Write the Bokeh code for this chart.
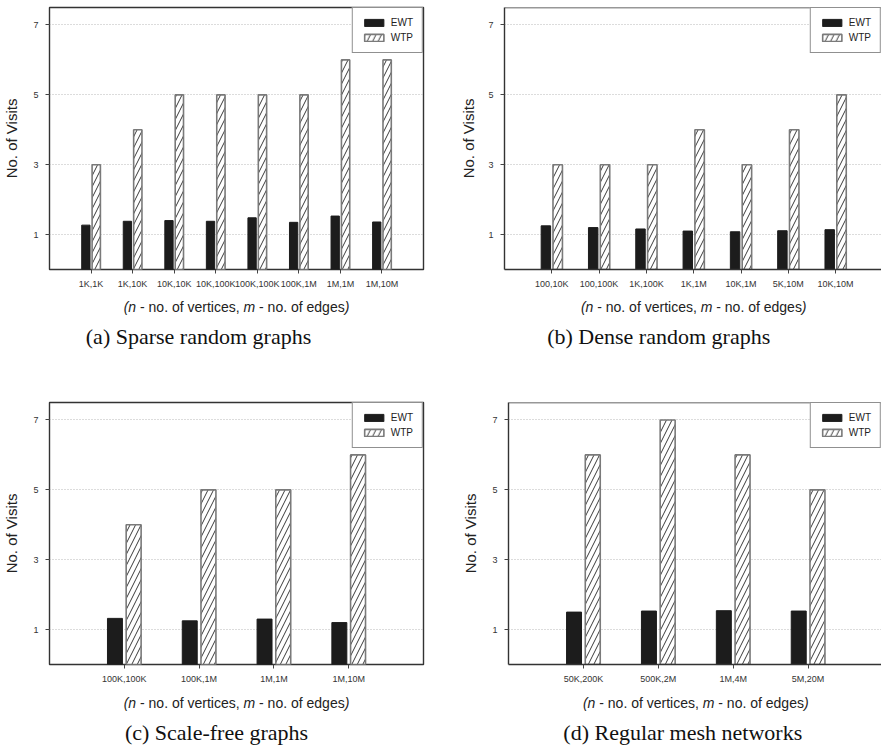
from bokeh.plotting import figure
from bokeh.models import FixedTicker, Span, Range1d
from bokeh.layouts import column, row
from bokeh.core.properties import value
from bokeh.embed import file_html
from bokeh.resources import INLINE

# ---------------- data ----------------
sparse_cats = ["1K,1K", "1K,10K", "10K,10K", "10K,100K", "100K,100K", "100K,1M", "1M,1M", "1M,10M"]
sparse_ewt = [1.27, 1.38, 1.40, 1.38, 1.48, 1.35, 1.53, 1.36]
sparse_wtp = [3, 4, 5, 5, 5, 5, 6, 6]

dense_cats = ["100,10K", "100,100K", "1K,100K", "1K,1M", "10K,1M", "5K,10M", "10K,10M"]
dense_ewt = [1.25, 1.20, 1.16, 1.10, 1.08, 1.11, 1.14]
dense_wtp = [3, 3, 3, 4, 3, 4, 5]

sf_cats = ["100K,100K", "100K,1M", "1M,1M", "1M,10M"]
sf_ewt = [1.32, 1.25, 1.30, 1.20]
sf_wtp = [4, 5, 5, 6]

mesh_cats = ["50K,200K", "500K,2M", "1M,4M", "5M,20M"]
mesh_ewt = [1.50, 1.53, 1.54, 1.53]
mesh_wtp = [6, 7, 6, 5]

y_ticks = [1, 3, 5, 7]
series_names = ["EWT", "WTP"]
y_title = "No. of Visits"
x_title_parts = [("(n", "italic"), (" - no. of vertices, ", "normal"), ("m", "italic"),
                 (" - no. of edges", "normal"), (")", "italic")]
captions = ["(a) Sparse random graphs", "(b) Dense random graphs",
            "(c) Scale-free graphs", "(d) Regular mesh networks"]

# Arial / Liberation Sans advance widths (1/1000 em)
ARIAL = {"(": 333, ")": 333, " ": 278, "-": 333, ".": 278, ",": 278, "n": 556, "o": 556,
         "f": 278, "v": 500, "e": 556, "r": 333, "t": 278, "i": 222, "c": 500, "s": 500,
         "m": 833, "d": 556, "g": 556}


def tw(s, fs):
    return sum(ARIAL.get(ch, 556) for ch in s) * fs / 1000.0


SANS = "Liberation Sans"
FRAME_COLOR = "#333333"
FRAME_H = 262


def make_panel(cats, ewt, wtp, caption, width, bl, br, bt, text_h, x_end, cut,
               ylab_standoff, cap_dx, title_y, cap_y):
    n = len(cats)
    xs = list(range(1, n + 1))
    bb = 22
    p = figure(width=width, height=bt + FRAME_H + bb, output_backend="svg", toolbar_location=None,
               x_range=Range1d(0, x_end), y_range=Range1d(0, 7.5),
               min_border_left=bl, min_border_right=br, min_border_top=bt, min_border_bottom=bb,
               background_fill_color="white", border_fill_color="white")
    p.vbar(x=[x - 0.125 for x in xs], top=ewt, width=0.2, bottom=0,
           fill_color="#1c1c1c", line_color="#1c1c1c", line_width=1, legend_label=series_names[0])
    p.vbar(x=[x + 0.125 for x in xs], top=wtp, width=0.2, bottom=0,
           fill_color="white", line_color="#7a7a7a", line_width=1.6,
           hatch_pattern="/", hatch_color="#222222", hatch_scale=11, hatch_weight=0.9,
           legend_label=series_names[1])

    p.xaxis.ticker = FixedTicker(ticks=xs)
    p.xaxis.major_label_overrides = {x: c for x, c in zip(xs, cats)}
    p.yaxis.ticker = FixedTicker(ticks=y_ticks)
    for ax in (p.xaxis[0], p.yaxis[0]):
        ax.major_label_text_font = SANS
        ax.major_label_text_font_size = "9px"
        ax.major_label_text_color = "#333333"
        ax.major_tick_in = 0
        ax.major_tick_out = 4
        ax.major_tick_line_color = "#444444"
        ax.minor_tick_line_color = None
    p.xaxis.major_label_standoff = 5
    p.yaxis.major_label_standoff = 7
    p.yaxis.axis_label = y_title
    p.yaxis.axis_label_text_font = SANS
    p.yaxis.axis_label_text_font_size = "15px"
    p.yaxis.axis_label_text_font_style = "normal"
    p.yaxis.axis_label_text_color = "#222222"
    p.yaxis.axis_label_standoff = ylab_standoff

    p.xgrid.grid_line_color = None
    p.ygrid.ticker = FixedTicker(ticks=y_ticks)
    p.ygrid.grid_line_color = "#b0b0b0"
    p.ygrid.grid_line_dash = "1 2"
    p.ygrid.grid_line_width = 0.9

    if cut:
        p.outline_line_color = None
        for ax in (p.xaxis[0], p.yaxis[0]):
            ax.axis_line_color = FRAME_COLOR
            ax.axis_line_width = 1.4
        p.add_layout(Span(location=7.5, dimension="width", line_color=FRAME_COLOR, line_width=1.4))
    else:
        p.outline_line_color = FRAME_COLOR
        p.outline_line_width = 1.4
        p.xaxis.axis_line_color = None
        p.yaxis.axis_line_color = None

    lg = p.legend[0]
    lg.location = "top_right"
    lg.margin = 0
    lg.padding = 9
    lg.spacing = 4
    lg.glyph_width = 24
    lg.glyph_height = 9
    lg.label_height = 9
    lg.label_standoff = 5
    lg.label_text_font = SANS
    lg.label_text_font_size = "10px"
    lg.label_text_color = "#222222"
    lg.border_line_color = "#222222"
    lg.border_line_width = 1.5
    lg.background_fill_color = "white"
    lg.background_fill_alpha = 1

    # text strip below: x shared with the chart, y in pixels from its top
    t = figure(width=width, height=text_h, output_backend="svg", toolbar_location=None,
               x_range=p.x_range, y_range=Range1d(text_h, 0),
               x_axis_location=None, y_axis_location=None,
               min_border_left=bl, min_border_right=br, min_border_top=0, min_border_bottom=0,
               background_fill_color="white", border_fill_color="white")
    t.outline_line_color = None
    t.grid.grid_line_color = None

    fs = 14
    total = sum(tw(s, fs) for s, _ in x_title_parts)
    cx = (n + 1) / 2.0
    off = -total / 2.0
    for s, style in x_title_parts:
        lead = len(s) - len(s.lstrip(" "))
        t.text(x=[cx], y=[title_y], text=[s.strip(" ")], x_offset=off + tw(" " * lead, fs),
               text_font=value(SANS), text_font_size=f"{fs}px", text_font_style=style,
               text_color="#222222", text_align="left", text_baseline="middle")
        off += tw(s, fs)

    t.text(x=[cx], y=[cap_y], text=[caption], x_offset=cap_dx,
           text_font=value("Liberation Serif"), text_font_size="22px",
           text_color="#111111", text_align="center", text_baseline="middle")
    return column(p, t)


# top row: chart 0..291, text 291..392 ; bottom row: chart 392..686, text 686..747
pa = make_panel(sparse_cats, sparse_ewt, sparse_wtp, captions[0],
                440, 49, 17, 7, 101, 9, False, 10, -38, 15, 45)
pb = make_panel(dense_cats, dense_ewt, dense_wtp, captions[1],
                441, 64, 0, 7, 101, 7.97, True, 8, -35, 15, 45)
pc = make_panel(sf_cats, sf_ewt, sf_wtp, captions[2],
                440, 49, 17, 10, 61, 5, False, 10, -20, 16, 46)
pd = make_panel(mesh_cats, mesh_ewt, mesh_wtp, captions[3],
                441, 68, 0, 10, 61, 4.98, True, 10, -13, 16, 46)

layout = column(row(pa, pb), row(pc, pd))
open("out.html", "w").write(file_html(layout, INLINE))
